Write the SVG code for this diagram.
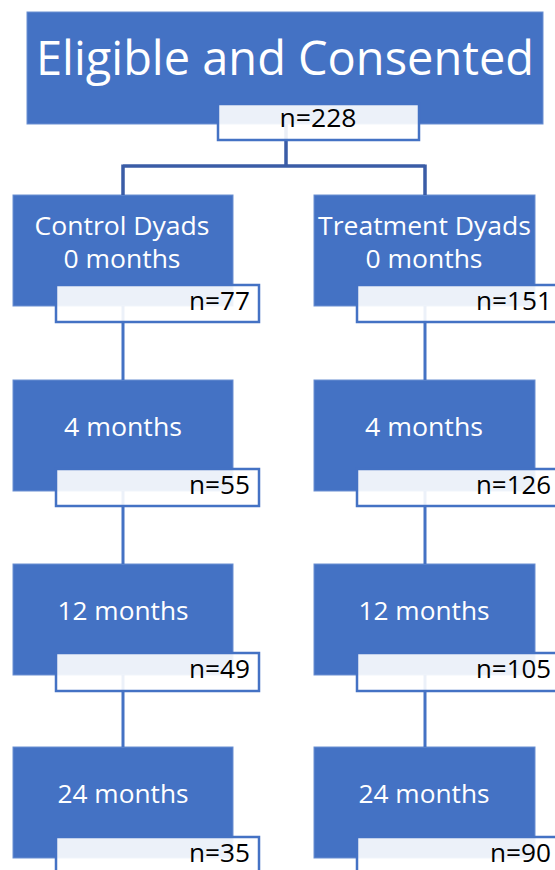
<svg xmlns="http://www.w3.org/2000/svg" width="555" height="870" viewBox="0 0 555 870">
<style>
.box{fill:#4472c4;stroke:#6a8fd2;stroke-width:1}
.lbl{fill:#ffffff;fill-opacity:0.9;stroke:#4472c4;stroke-width:2.5}
.wt{font-family:"Open Sans","Liberation Sans",sans-serif;fill:#ffffff;font-size:26px;text-anchor:middle}
.nt{font-family:"Open Sans","Liberation Sans",sans-serif;fill:#000000;font-size:25px;text-anchor:end}
.con{fill:none;stroke:#4472c4;stroke-width:3}
.top{fill:none;stroke:#3a5ca6;stroke-width:3.5}
</style>
<rect width="555" height="870" fill="#ffffff"/>
<g id="blues">
<rect class="box" x="27" y="12" width="516" height="112"/>
<rect class="box" x="13" y="195" width="220" height="111"/>
<rect class="box" x="314" y="195" width="221" height="111"/>
<rect class="box" x="13" y="380" width="220" height="111"/>
<rect class="box" x="314" y="380" width="221" height="111"/>
<rect class="box" x="13" y="564" width="220" height="111"/>
<rect class="box" x="314" y="564" width="221" height="111"/>
<rect class="box" x="13" y="747" width="220" height="111"/>
<rect class="box" x="314" y="747" width="221" height="111"/>
</g>
<g id="connectors">
<path class="top" d="M286,124 V166 M123,166 H425 M123,164.5 V195 M425,164.5 V195"/>
<path class="con" d="M123,306 V380 M123,491 V564 M123,675 V747 M425,306 V380 M425,491 V564 M425,675 V747"/>
</g>
<g id="eligible">
<text x="285" y="75" font-family="'Open Sans','Liberation Sans',sans-serif" font-size="47" fill="#ffffff" text-anchor="middle" textLength="498" lengthAdjust="spacingAndGlyphs">Eligible and Consented</text>
<rect class="lbl" x="218" y="104" width="201" height="36"/>
<text x="318" y="127" font-family="'Open Sans','Liberation Sans',sans-serif" font-size="25" fill="#000" text-anchor="middle" textLength="77" lengthAdjust="spacingAndGlyphs">n=228</text>
</g>
<g id="control0">
<text class="wt" x="122" y="235" textLength="175" lengthAdjust="spacingAndGlyphs">Control Dyads</text>
<text class="wt" x="122" y="268" textLength="117" lengthAdjust="spacingAndGlyphs">0 months</text>
<rect class="lbl" x="56" y="285" width="203" height="37"/>
<text class="nt" x="250" y="310" textLength="61" lengthAdjust="spacingAndGlyphs">n=77</text>
</g>
<g id="treatment0">
<text class="wt" x="424.5" y="235" textLength="213" lengthAdjust="spacingAndGlyphs">Treatment Dyads</text>
<text class="wt" x="424" y="268" textLength="117" lengthAdjust="spacingAndGlyphs">0 months</text>
<rect class="lbl" x="357" y="285" width="204" height="37"/>
<text class="nt" x="552" y="310" textLength="76" lengthAdjust="spacingAndGlyphs">n=151</text>
</g>
<g id="control4">
<text class="wt" x="123" y="436" textLength="118" lengthAdjust="spacingAndGlyphs">4 months</text>
<rect class="lbl" x="56" y="469" width="203" height="37"/>
<text class="nt" x="250" y="494" textLength="61" lengthAdjust="spacingAndGlyphs">n=55</text>
</g>
<g id="treatment4">
<text class="wt" x="424" y="436" textLength="118" lengthAdjust="spacingAndGlyphs">4 months</text>
<rect class="lbl" x="357" y="469" width="204" height="37"/>
<text class="nt" x="551" y="494" textLength="75" lengthAdjust="spacingAndGlyphs">n=126</text>
</g>
<g id="control12">
<text class="wt" x="123" y="620" textLength="131" lengthAdjust="spacingAndGlyphs">12 months</text>
<rect class="lbl" x="56" y="653" width="203" height="38"/>
<text class="nt" x="250" y="678" textLength="61" lengthAdjust="spacingAndGlyphs">n=49</text>
</g>
<g id="treatment12">
<text class="wt" x="424" y="620" textLength="131" lengthAdjust="spacingAndGlyphs">12 months</text>
<rect class="lbl" x="357" y="653" width="204" height="38"/>
<text class="nt" x="551" y="678" textLength="75" lengthAdjust="spacingAndGlyphs">n=105</text>
</g>
<g id="control24">
<text class="wt" x="123" y="803" textLength="131" lengthAdjust="spacingAndGlyphs">24 months</text>
<rect class="lbl" x="56" y="837" width="203" height="38"/>
<text class="nt" x="250" y="862" textLength="61" lengthAdjust="spacingAndGlyphs">n=35</text>
</g>
<g id="treatment24">
<text class="wt" x="424" y="803" textLength="131" lengthAdjust="spacingAndGlyphs">24 months</text>
<rect class="lbl" x="357" y="837" width="204" height="38"/>
<text class="nt" x="551" y="862" textLength="61" lengthAdjust="spacingAndGlyphs">n=90</text>
</g>
</svg>
